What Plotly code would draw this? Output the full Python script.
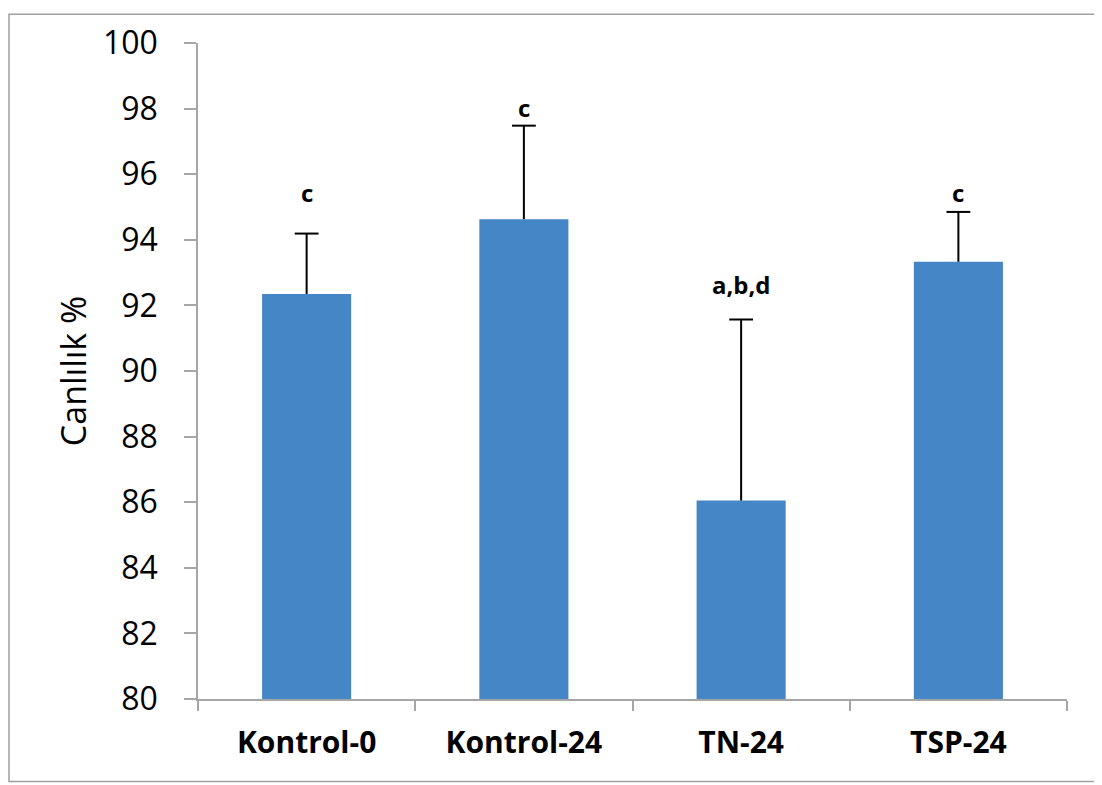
import plotly.graph_objects as go

categories = ["Kontrol-0", "Kontrol-24", "TN-24", "TSP-24"]
means = [92.35, 94.63, 86.05, 93.33]
sd_plus = [1.84, 2.85, 5.52, 1.52]
sig_labels = ["c", "c", "a,b,d", "c"]
sig_y = [95.45, 98.02, 92.65, 95.45]
y_ticks = list(range(80, 101, 2))

FONT = "Open Sans"
AXIS_GRAY = "#a6a6a6"

fig = go.Figure()
fig.add_trace(go.Bar(
    x=categories, y=means,
    marker=dict(color="#4586c6", line=dict(width=0)),
    error_y=dict(type="data", symmetric=False, array=sd_plus,
                 arrayminus=[0] * len(means), width=0,
                 thickness=2, color="black"),
    showlegend=False, hoverinfo="x+y",
))
fig.add_trace(go.Scatter(
    x=categories, y=[m + s for m, s in zip(means, sd_plus)],
    mode="markers",
    marker=dict(symbol="line-ew", size=17, color="black",
                line=dict(width=2, color="black")),
    showlegend=False, hoverinfo="skip",
))
for c, lab, yv in zip(categories, sig_labels, sig_y):
    fig.add_annotation(x=c, y=yv, text="<b>%s</b>" % lab, showarrow=False,
                       font=dict(family=FONT, size=24, color="black"),
                       xref="x", yref="y")

# outer frame
fig.add_shape(type="rect", xref="paper", yref="paper",
              x0=-0.2175, x1=1.0345, y0=-0.1256, y1=1.0439,
              line=dict(color="#a0a0a0", width=1.5), fillcolor="rgba(0,0,0,0)")

fig.update_layout(
    width=1094, height=777,
    margin=dict(l=190, r=35, t=30, b=86),
    paper_bgcolor="white", plot_bgcolor="white",
    bargap=0.59,
    font=dict(family=FONT, color="black"),
    xaxis=dict(
        type="category", showline=True, linecolor=AXIS_GRAY, linewidth=1.5,
        ticks="outside", tickson="boundaries", ticklen=10, tickcolor=AXIS_GRAY,
        tickwidth=1.5, showgrid=False, zeroline=False,
        tickfont=dict(family=FONT, size=30, color="black", weight="bold"),
        ticklabelstandoff=16,
    ),
    yaxis=dict(
        range=[80, 100], tickvals=y_ticks, showline=True, linecolor=AXIS_GRAY,
        linewidth=1.5, ticks="outside", ticklen=12, tickcolor=AXIS_GRAY,
        tickwidth=1.5, showgrid=False, zeroline=False,
        tickfont=dict(family=FONT, size=32, color="black"),
        ticklabelstandoff=20,
        title=dict(text="Canlılık %", font=dict(family=FONT, size=34, color="black"),
                   standoff=6),
    ),
)

fig.write_html("out.html")
